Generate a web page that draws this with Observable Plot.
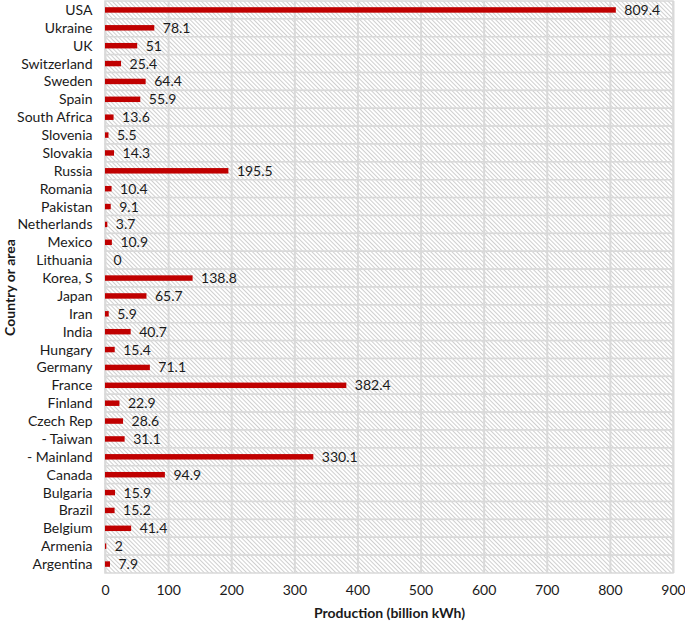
<!DOCTYPE html>
<html>
<head>
<meta charset="utf-8">
<script src="https://cdn.jsdelivr.net/npm/d3@7"></script>
<script src="https://cdn.jsdelivr.net/npm/@observablehq/plot@0.6"></script>
<style>
  html, body { margin: 0; padding: 0; background: #fff; }
  #chart svg { display: block; }
  g[aria-label="x-axis label"] text, g[aria-label="y-axis label"] text { font-weight: bold; }
</style>
</head>
<body>
<div id="chart"></div>
<script>
const countries = ["USA", "Ukraine", "UK", "Switzerland", "Sweden", "Spain", "South Africa", "Slovenia",
  "Slovakia", "Russia", "Romania", "Pakistan", "Netherlands", "Mexico", "Lithuania", "Korea, S",
  "Japan", "Iran", "India", "Hungary", "Germany", "France", "Finland", "Czech Rep", "- Taiwan",
  "- Mainland", "Canada", "Bulgaria", "Brazil", "Belgium", "Armenia", "Argentina"];
const production = [809.4, 78.1, 51, 25.4, 64.4, 55.9, 13.6, 5.5,
  14.3, 195.5, 10.4, 9.1, 3.7, 10.9, 0, 138.8,
  65.7, 5.9, 40.7, 15.4, 71.1, 382.4, 22.9, 28.6, 31.1,
  330.1, 94.9, 15.9, 15.2, 41.4, 2, 7.9];
const xTicks = [0, 100, 200, 300, 400, 500, 600, 700, 800, 900];
const xMax = 900;

const data = countries.map((name, i) => ({name, value: production[i]}));

const plot = Plot.plot({
  width: 685,
  height: 622,
  marginLeft: 105,
  marginRight: 12,
  marginTop: 1,
  marginBottom: 49,
  style: {fontFamily: "Lato, 'Open Sans', sans-serif", fontSize: "13.5px", color: "#1a1a1a", background: "#fff"},
  x: {domain: [0, xMax]},
  y: {domain: countries, padding: 0, round: false},
  marks: [
    Plot.barX(countries, {x1: 0, x2: xMax, y: d => d, fill: "url(#hatch)", stroke: "#d9d9d9", strokeWidth: 1.5}),
    Plot.ruleX(xTicks, {stroke: "#d9d9d9", strokeWidth: 2}),
    Plot.barX(data, {x: "value", y: "name", fill: "#c00000", insetTop: 6.2, insetBottom: 6.2}),
    Plot.text(data, {x: "value", y: "name", text: d => String(d.value), dx: 8, textAnchor: "start", fontSize: 14, fill: "#1a1a1a"}),
    Plot.axisX({ticks: xTicks, tickSize: 0, tickPadding: 12, fontSize: 14, label: "Production (billion kWh)", labelAnchor: "center", labelArrow: "none", labelOffset: 44}),
    Plot.axisY({tickSize: 0, tickPadding: 13, fontSize: 14, label: "Country or area", labelAnchor: "center", labelArrow: "none", labelOffset: 100})
  ]
});

const svg = d3.select(plot.tagName.toLowerCase() === "svg" ? plot : plot.querySelector("svg"));
const defs = svg.insert("defs", ":first-child");
const pat = defs.append("pattern")
  .attr("id", "hatch")
  .attr("patternUnits", "userSpaceOnUse")
  .attr("width", 3)
  .attr("height", 3)
  .attr("patternTransform", "rotate(-45)");
pat.append("rect").attr("width", 3).attr("height", 3).attr("fill", "#fff");
pat.append("line").attr("x1", 0.5).attr("y1", 0).attr("x2", 0.5).attr("y2", 3)
  .attr("stroke", "#cfcfcf").attr("stroke-width", 1);

document.getElementById("chart").appendChild(plot);
</script>
</body>
</html>
